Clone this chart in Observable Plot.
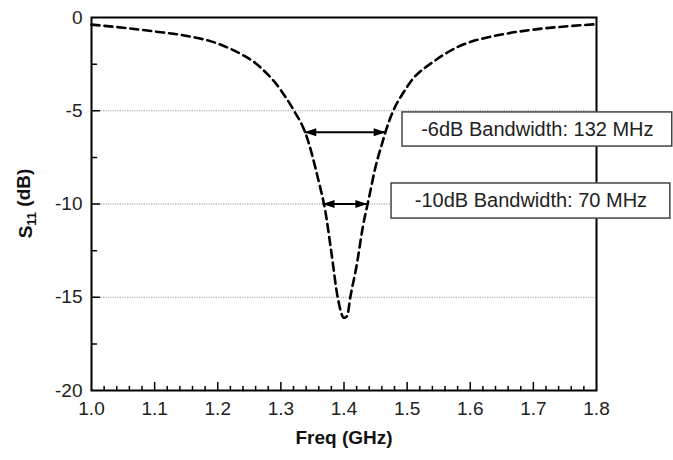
<!DOCTYPE html>
<html>
<head>
<meta charset="utf-8">
<script src="https://cdn.jsdelivr.net/npm/d3@7"></script>
<script src="https://cdn.jsdelivr.net/npm/@observablehq/plot@0.6"></script>
<style>
  html, body { margin: 0; padding: 0; background: #fff; }
  #chart svg { display: block; }
</style>
</head>
<body>
<div id="chart"></div>
<script>
// ---- data ----
const freq = [1.00, 1.05, 1.10, 1.15, 1.20, 1.22, 1.24, 1.26, 1.27, 1.28, 1.29, 1.30, 1.31, 1.32, 1.34, 1.36, 1.37, 1.38, 1.39, 1.40, 1.405, 1.41, 1.42, 1.43, 1.44, 1.45, 1.46, 1.47, 1.48, 1.49, 1.50, 1.51, 1.52, 1.54, 1.56, 1.58, 1.60, 1.63, 1.66, 1.70, 1.75, 1.80];
const s11  = [-0.38, -0.55, -0.75, -0.98, -1.40, -1.68, -2.02, -2.45, -2.75, -3.08, -3.45, -3.90, -4.40, -4.95, -6.30, -8.80, -10.30, -12.60, -15.00, -16.10, -16.00, -15.00, -13.30, -11.20, -9.60, -8.00, -6.80, -5.70, -4.85, -4.25, -3.72, -3.25, -2.92, -2.41, -1.95, -1.58, -1.31, -1.05, -0.85, -0.65, -0.48, -0.36];

const xTicks = [1.0, 1.1, 1.2, 1.3, 1.4, 1.5, 1.6, 1.7, 1.8];
const xTickLabels = ["1.0", "1.1", "1.2", "1.3", "1.4", "1.5", "1.6", "1.7", "1.8"];
const yTicks = [0, -5, -10, -15, -20];
const yTickLabels = ["0", "-5", "-10", "-15", "-20"];
const gridLevels = [-5, -10, -15];

// bandwidth annotations
const bwLevel  = [-6.15, -10];
const bwLeft   = [1.337, 1.366];
const bwRight  = [1.466, 1.437];
const bwLabels = ["-6dB Bandwidth: 132 MHz", "-10dB Bandwidth: 70 MHz"];
const boxX1    = [1.4927, 1.4753];
const boxX2    = [1.9200, 1.9170];
const boxTop   = [-5.09, -8.90];
const boxBot   = [-6.92, -10.78];

// ---- build tables ----
const curve = freq.map((f, i) => ({f, s: s11[i]}));
const bw = bwLevel.map((y, i) => ({
  y, x1: bwLeft[i], x2: bwRight[i], label: bwLabels[i],
  bx1: boxX1[i], bx2: boxX2[i], by1: boxBot[i], by2: boxTop[i]
}));
const heads = bw.flatMap(d => [{x: d.x1, y: d.y, rot: 180}, {x: d.x2, y: d.y, rot: 0}]);

const xMinor = d3.range(1.02, 1.79, 0.02).filter(v => Math.abs(v * 10 - Math.round(v * 10)) > 1e-6);
const xMajorInner = xTicks.slice(1, -1);
const yMinor = [-2.5, -7.5, -12.5, -17.5];
const yMajorInner = [-5, -10, -15];

// custom shapes
const tickShape = {draw(ctx, l) { ctx.moveTo(0, 0); ctx.lineTo(0, -l); }};
const arrowHead = {draw(ctx) { ctx.moveTo(0, 0); ctx.lineTo(-12, -4); ctx.lineTo(-12, 4); ctx.closePath(); }};

const font = "'Liberation Sans', Arial, Helvetica, sans-serif";

const chart = Plot.plot({
  width: 673,
  height: 460,
  marginLeft: 91,
  marginRight: 77,
  marginTop: 17,
  marginBottom: 70,
  style: {fontFamily: font, fontSize: "19px", color: "#222", background: "#fff"},
  x: {domain: [1.0, 1.8]},
  y: {domain: [-20, 0]},
  marks: [
    Plot.ruleY(gridLevels, {stroke: "#9a9a9a", strokeWidth: 1, strokeDasharray: "1.2,1.2"}),
    Plot.line(curve, {x: "f", y: "s", stroke: "black", strokeWidth: 2.6, strokeDasharray: "8,5", curve: "monotone-x"}),
    Plot.link(bw, {x1: "x1", x2: "x2", y1: "y", y2: "y", stroke: "black", strokeWidth: 2}),
    Plot.dot(heads, {x: "x", y: "y", rotate: "rot", symbol: arrowHead, fill: "black", stroke: "none"}),
    Plot.frame({stroke: "black", strokeWidth: 2}),
    Plot.rect(bw, {x1: "bx1", x2: "bx2", y1: "by1", y2: "by2", fill: "white", stroke: "#444", strokeWidth: 1.5}),
    Plot.text(bw, {x: d => (d.bx1 + d.bx2) / 2, y: d => (d.by1 + d.by2) / 2, text: "label", fontSize: 20, fill: "#222"}),
    // inward ticks
    Plot.vector(xMinor, {x: d => d, y: -20, length: 4, rotate: 0, anchor: "start", shape: tickShape, stroke: "black", strokeWidth: 1.5}),
    Plot.vector(xMajorInner, {x: d => d, y: -20, length: 8, rotate: 0, anchor: "start", shape: tickShape, stroke: "black", strokeWidth: 1.5}),
    Plot.vector(yMinor, {x: 1.0, y: d => d, length: 5, rotate: 90, anchor: "start", shape: tickShape, stroke: "black", strokeWidth: 1.5}),
    Plot.vector(yMajorInner, {x: 1.0, y: d => d, length: 8, rotate: 90, anchor: "start", shape: tickShape, stroke: "black", strokeWidth: 1.5}),
    // axis labels
    Plot.axisX({ticks: xTicks, tickSize: 0, tickPadding: 11, tickFormat: (d, i) => xTickLabels[i], label: null, fontSize: 19}),
    Plot.axisY({ticks: yTicks, tickSize: 0, tickPadding: 9, tickFormat: (d, i) => yTickLabels[i], label: null, fontSize: 19}),
    Plot.text(["Freq (GHz)"], {frameAnchor: "bottom", dy: 53, text: d => d, fontWeight: "bold", fontSize: 19, fill: "#111"})
  ]
});

document.getElementById("chart").appendChild(chart);

// y-axis title with subscript
const svg = d3.select(chart);
const yl = svg.append("text")
  .attr("transform", `translate(32, ${(17 + 390) / 2}) rotate(-90)`)
  .attr("text-anchor", "middle")
  .attr("font-family", font)
  .attr("font-weight", "bold")
  .attr("font-size", 19)
  .attr("fill", "#111");
yl.append("tspan").text("S");
yl.append("tspan").attr("font-size", 13).attr("dy", "0.3em").text("11");
yl.append("tspan").attr("dy", "-0.3em").text(" (dB)");
</script>
</body>
</html>
